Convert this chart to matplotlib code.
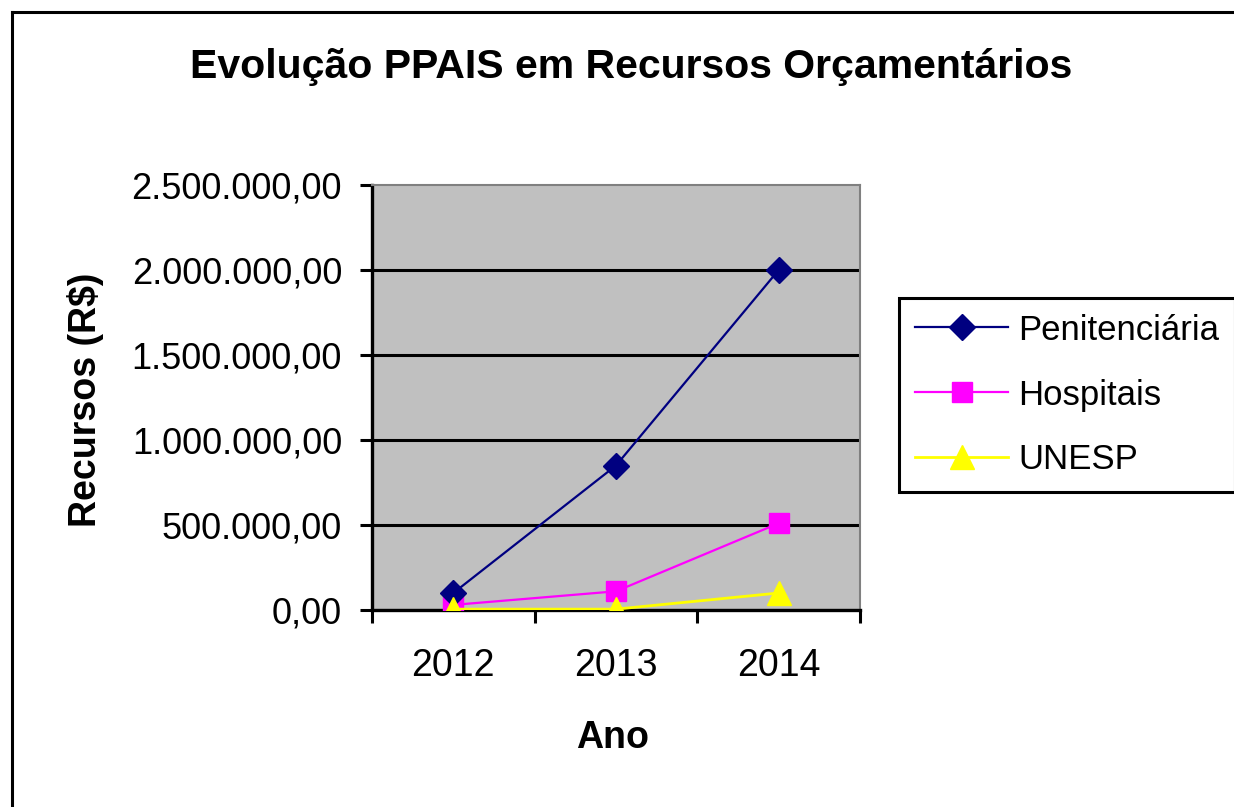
import matplotlib
matplotlib.use("Agg")
import matplotlib.pyplot as plt
from matplotlib.lines import Line2D
from matplotlib.ticker import FixedLocator, FuncFormatter

plt.rcParams['font.family'] = ['Liberation Sans', 'DejaVu Sans']

# ---- data ----
years = ["2012", "2013", "2014"]
penitenciaria = [100000, 850000, 2000000]
hospitais = [30000, 110000, 510000]
unesp = [5000, 5000, 100000]
series_names = ["Penitenciária", "Hospitais", "UNESP"]
y_ticks = [0, 500000, 1000000, 1500000, 2000000, 2500000]

W, H = 1234, 807
fig = plt.figure(figsize=(W / 100, H / 100), dpi=100)
fig.patch.set_facecolor("white")

# plot area in pixel coords
L, R, T, B = 372, 860, 185, 610
ax = fig.add_axes([L / W, 1 - B / H, (R - L) / W, (B - T) / H])
ax.set_facecolor("#C0C0C0")

x = list(range(len(years)))
ax.plot(x, penitenciaria, color="#000080", lw=1.6, marker="D", markersize=13,
        markeredgecolor="#000080", markerfacecolor="#000080", label=series_names[0], zorder=5)
ax.plot(x, hospitais, color="#FF00FF", lw=1.6, marker="s", markersize=15,
        markeredgecolor="#FF00FF", markerfacecolor="#FF00FF", label=series_names[1], zorder=4)
ax.plot(x, unesp, color="#FFFF00", lw=2.0, marker="^", markersize=17,
        markeredgecolor="#FFFF00", markerfacecolor="#FFFF00", label=series_names[2], zorder=6)

ax.set_xlim(-0.5, len(years) - 0.5)
ax.set_ylim(y_ticks[0], y_ticks[-1])

# y axis
ax.yaxis.set_major_locator(FixedLocator(y_ticks))


def br_fmt(v, pos):
    s = f"{v:,.2f}"
    return s.replace(",", "X").replace(".", ",").replace("X", ".")


ax.yaxis.set_major_formatter(FuncFormatter(br_fmt))
ax.tick_params(axis="y", which="major", direction="out", length=8.6, width=2.2,
               pad=13, labelsize=26, colors="black")
ax.yaxis.grid(True, color="black", lw=2.2)
ax.set_axisbelow(True)
gl = ax.yaxis.get_gridlines()
gl[-1].set_visible(False)

# x axis: labels at centers, tick marks at category boundaries
ax.set_xticks(x)
ax.set_xticklabels(years)
ax.set_xticks([i - 0.5 for i in range(len(years) + 1)], minor=True)
ax.tick_params(axis="x", which="major", length=0, pad=27, labelsize=27)
ax.tick_params(axis="x", which="minor", direction="out", length=9, width=2.2)

for side in ("left", "bottom"):
    ax.spines[side].set_color("black")
    ax.spines[side].set_linewidth(2.4)
for side in ("top", "right"):
    ax.spines[side].set_color("#808080")
    ax.spines[side].set_linewidth(1.5)

# axis labels
ax.set_ylabel("Recursos (R$)", fontsize=27, fontweight="bold", rotation=90,
              va="center", ha="center")
ax.yaxis.set_label_coords((85 - L) / (R - L), 0.5 - (400 - (T + B) / 2) / (B - T))
ax.set_xlabel("Ano", fontsize=27, fontweight="bold", va="baseline", ha="center")
ax.xaxis.set_label_coords((613 - L) / (R - L), -(748 - B) / (B - T))

# title
fig.text(631 / W, 1 - 78 / H, "Evolução PPAIS em Recursos Orçamentários",
         fontsize=29.5, fontweight="bold", ha="center", va="baseline")

# legend
leg = ax.legend(loc="center left", bbox_to_anchor=(899 / W, 1 - 395 / H),
                bbox_transform=fig.transFigure, fontsize=25, frameon=True,
                fancybox=False, shadow=False, handlelength=2.68,
                handletextpad=0.3, borderpad=0.46, labelspacing=0.92,
                borderaxespad=0)
leg.get_frame().set_edgecolor("black")
leg.get_frame().set_linewidth(2.2)
leg.get_frame().set_facecolor("white")
leg.get_frame().set_alpha(1)

# figure border (left and top visible)
fig.add_artist(Line2D([12 / W, 12 / W], [0, 1 - 11.5 / H], transform=fig.transFigure,
                      color="black", lw=2.2))
fig.add_artist(Line2D([12 / W, 1], [1 - 11.5 / H, 1 - 11.5 / H], transform=fig.transFigure,
                      color="black", lw=2.2))

fig.savefig("out.png", dpi=100, facecolor="white")
